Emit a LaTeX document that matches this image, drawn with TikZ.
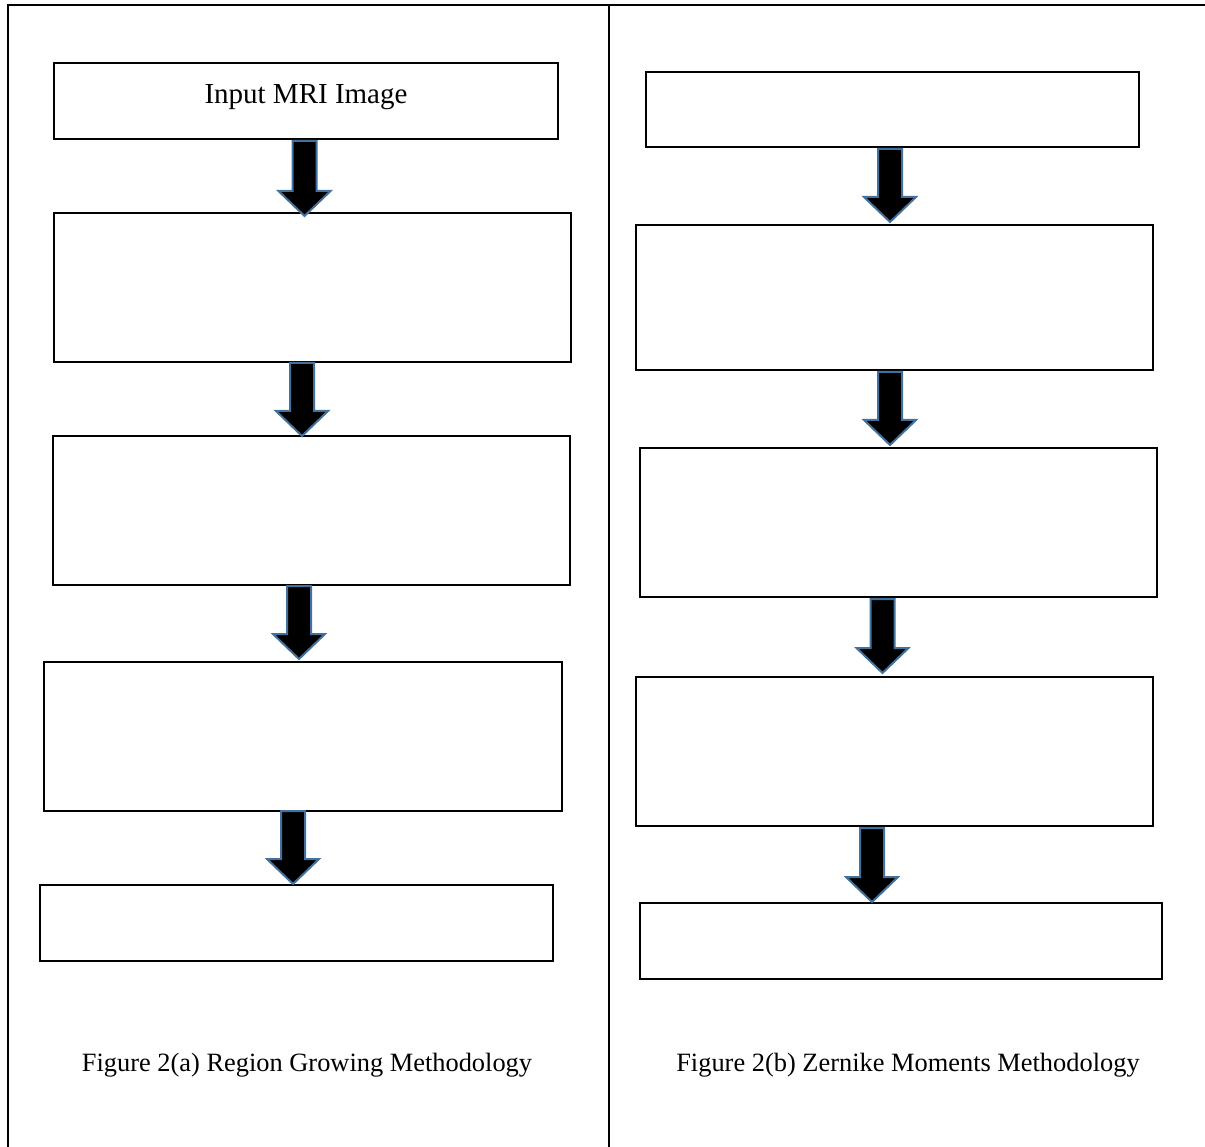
\documentclass[tikz,border=0pt]{standalone}
\usepackage{fontspec}
\setmainfont{Liberation Serif}
\definecolor{arrowedge}{HTML}{41719C}
\newcommand{\blockarr}[4]{%
  \draw[blockarrow] ({#2-12},#3) -- ({#2+12},#3) -- ({#2+12},{#4-25}) -- ({#2+26},{#4-25})
    -- coordinate (#1) (#2,#4) -- ({#2-26},{#4-25}) -- ({#2-12},{#4-25}) -- cycle;}
\begin{document}
\begin{tikzpicture}[x=1pt,y=-1pt,
  stepbox/.style={draw=black,line width=2pt,inner sep=0pt,fill=white},
  blockarrow/.style={fill=black,draw=arrowedge,line width=2pt,line join=miter},
  frame/.style={draw=black,line width=2.6pt},
  boxtext/.style={font=\fontsize{29}{34}\selectfont},
  captext/.style={font=\fontsize{26.4}{31}\selectfont}]
\useasboundingbox (0,0) rectangle (1205,1147);
% frame
\draw[frame] (8,1147) -- (8,5) -- (1205,5);
\draw[frame] (609,5) -- (609,1147);
% left column
\node[stepbox,minimum width=504pt,minimum height=76pt] (l1) at (306,101) {};
\node[boxtext,anchor=base] (l1t) at (306,104) {Input MRI Image};
\node[stepbox,minimum width=517pt,minimum height=149pt] (l2) at (312.5,287.5) {};
\node[stepbox,minimum width=517pt,minimum height=149pt] (l3) at (311.5,510.5) {};
\node[stepbox,minimum width=518pt,minimum height=149pt] (l4) at (303,736.5) {};
\node[stepbox,minimum width=513pt,minimum height=76pt] (l5) at (296.5,923) {};
% right column
\node[stepbox,minimum width=493pt,minimum height=75pt] (r1) at (892.5,109.5) {};
\node[stepbox,minimum width=517pt,minimum height=145pt] (r2) at (894.5,297.5) {};
\node[stepbox,minimum width=517pt,minimum height=149pt] (r3) at (898.5,522.5) {};
\node[stepbox,minimum width=517pt,minimum height=149pt] (r4) at (894.5,751.5) {};
\node[stepbox,minimum width=522pt,minimum height=76pt] (r5) at (901,941) {};
% arrows
\blockarr{al1}{304.5}{141}{216}
\blockarr{al2}{302}{363}{436}
\blockarr{al3}{299}{586}{659}
\blockarr{al4}{293}{811}{884}
\blockarr{ar1}{890}{149}{222}
\blockarr{ar2}{890}{372}{445}
\blockarr{ar3}{882.5}{599}{673}
\blockarr{ar4}{872}{828}{902}
% captions
\node[captext,anchor=base] (capa) at (307,1071) {Figure 2(a) Region Growing Methodology};
\node[captext,anchor=base] (capb) at (908,1071) {Figure 2(b) Zernike Moments Methodology};
\end{tikzpicture}
\end{document}
